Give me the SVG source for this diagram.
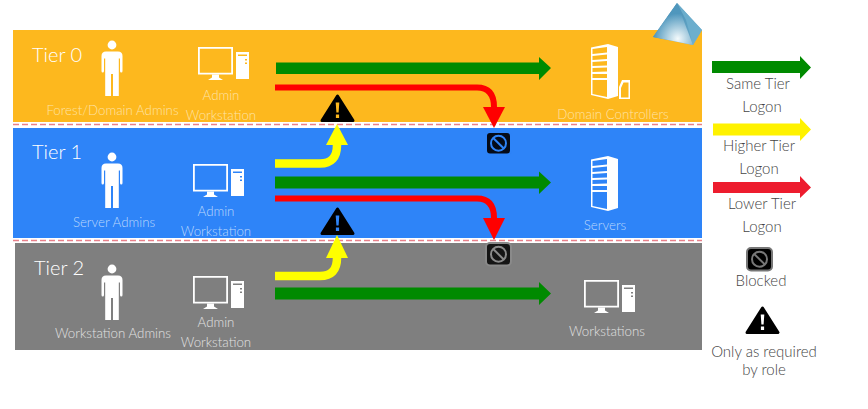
<svg xmlns="http://www.w3.org/2000/svg" width="868" height="409" viewBox="0 0 868 409">
<style>
text{font-family:"Lato","Open Sans","Liberation Sans",sans-serif;font-weight:300}
.tier{font-size:20px;fill:#fff}
.lab{font-size:13.3px;text-anchor:middle}
.l0{fill:#fee3a8}.l1{fill:#bcd8fc}.l2{fill:#e2e2e2}
.leg{font-size:15px;fill:#444;text-anchor:middle}
.sep{stroke:#e8808a;stroke-width:1.5;stroke-dasharray:6 3;fill:none}
.g{fill:#008a00}
.rs{fill:none;stroke:#f00;stroke-width:6}
.ys{fill:none;stroke:#ff0;stroke-width:8.5}
.rf{fill:#f00}.yf{fill:#ff0}
.ico{fill:#fff}
</style>
<defs>
<linearGradient id="pyr" x1="0" y1="0" x2="1" y2="1">
<stop offset="0" stop-color="#3f86ad"/><stop offset="1" stop-color="#6fb0cf"/>
</linearGradient>
<radialGradient id="pyrG" cx="0.62" cy="0.85" r="0.6">
<stop offset="0" stop-color="#f4fafc"/><stop offset="1" stop-color="#4f97bd"/>
</radialGradient>
<symbol id="person" overflow="visible">
<circle cx="0" cy="0" r="4.4"/>
<path d="M-6 6.500H6Q10.500 6.500 10.500 11V26Q10.500 27.500 9.300 27.500Q8 27.500 8 26V13.500H6.800V51H1V29H-1V51H-6.800V13.500H-8V26Q-8 27.500-9.300 27.500Q-10.500 27.500-10.500 26V11Q-10.500 6.500-6 6.500Z"/>
</symbol>
<symbol id="ws" overflow="visible">
<path fill-rule="evenodd" d="M0 0H35V27.500H0ZM1.800 1.800V25.700H33.200V1.800Z"/>
<path d="M14 27.500H21V30.500L25 33H10L14 30.500Z"/>
<path fill-rule="evenodd" d="M38 5H51V32H38ZM40 7.500V9H49V7.500ZM47 12V13.500H49V12ZM47 15.500V17H49V15.500Z"/>
</symbol>
<symbol id="srv" overflow="visible">
<path fill-rule="evenodd" d="M0 3.500L17 0L27 3V52L17 55L0 51ZM1.500 5V10L16 8.500V3ZM1.500 12V16L16 15V10.500ZM1.500 18V22L16 21.500V17ZM1.500 24V28L16 27.500V23.500ZM1.500 30V34L16 34V30ZM1.500 36V50L16 53V36Z"/>
</symbol>
<symbol id="warn" overflow="visible">
<path fill="#000" stroke="#000" stroke-width="3" stroke-linejoin="round" d="M16.500 2L32 26.500H1Z"/>
<path d="M14.700 8.500H18.300L17.600 18.500H15.400ZM14.900 20.500H18.100V24H14.900Z"/>
</symbol>
<symbol id="blk" overflow="visible">
<rect x="1" y="1" width="25" height="22.500" rx="4" stroke-width="2"/>
<circle cx="13.500" cy="12.200" r="7.500" fill="none" stroke-width="2"/>
<path d="M8.200 7L18.800 17.500" fill="none" stroke-width="2"/>
</symbol>
</defs>

<g id="tier0-band"><rect x="13" y="30" width="689" height="92" fill="#fdb81e"/></g>
<g id="tier1-band"><rect x="13" y="128" width="689" height="110" fill="#2e84f8"/></g>
<g id="tier2-band"><rect x="15" y="243" width="687" height="107" fill="#7f7f7f"/></g>
<path class="sep" d="M13 124.500H702"/>
<path class="sep" d="M13 240.500H702"/>

<g id="pyramid">
<path d="M677 3L702 30L693 45L653 37Z" fill="url(#pyr)"/>
<path d="M677 3L693 45L653 37Z" fill="url(#pyrG)"/>
<path d="M677 3L702 30L693 45L686 20Z" fill="#6fb0cf" opacity=".85"/>
</g>

<g id="tier0-label"><text class="tier" x="32" y="62">Tier 0</text></g>
<g id="tier0-admins" class="ico"><use href="#person" x="112" y="45"/>
<text class="lab l0" x="112.500" y="115">Forest/Domain Admins</text></g>
<g id="tier0-workstation" class="ico"><use href="#ws" x="198" y="47"/>
<text class="lab l0" x="221" y="100">Admin</text><text class="lab l0" x="221" y="120">Workstation</text></g>
<g id="domain-controllers" class="ico"><use href="#srv" x="591" y="44"/>
<path fill-rule="evenodd" d="M622 80H630V99H619V87ZM623.500 82.500L621 88V97.500H628.500V82.500Z"/>
<text class="lab l0" x="613" y="119">Domain Controllers</text></g>

<g id="tier1-label"><text class="tier" x="32" y="159">Tier 1</text></g>
<g id="tier1-admins" class="ico"><use href="#person" x="112" y="157"/>
<text class="lab l1" x="114" y="227">Server Admins</text></g>
<g id="tier1-workstation" class="ico"><use href="#ws" x="193" y="164"/>
<text class="lab l1" x="216" y="216">Admin</text><text class="lab l1" x="216" y="236">Workstation</text></g>
<g id="servers" class="ico"><use href="#srv" x="591" y="156"/>
<text class="lab l1" x="605" y="230">Servers</text></g>

<g id="tier2-label"><text class="tier" x="34" y="275">Tier 2</text></g>
<g id="tier2-admins" class="ico"><use href="#person" x="112" y="269"/>
<text class="lab l2" x="113" y="338">Workstation Admins</text></g>
<g id="tier2-workstation" class="ico"><use href="#ws" x="193" y="276"/>
<text class="lab l2" x="216" y="327">Admin</text><text class="lab l2" x="216" y="347">Workstation</text></g>
<g id="workstations" class="ico"><use href="#ws" x="584" y="280"/>
<text class="lab l2" x="607" y="336">Workstations</text></g>

<g id="connectors">
<path class="g" d="M276 62.500H539V57L551 68L539 80V74H276Z"/>
<path class="rs" d="M275 87.500H477Q494 87.500 494 107"/><path class="rf" d="M483 107H505L494 128Z"/>
<path class="ys" d="M275 163.500H320Q337 163.500 337 145"/><path class="yf" d="M326 145H348L337 124Z"/>
<path class="g" d="M275 176.500H539V171.500L551 182.500L539 194V188.500H275Z"/>
<path class="rs" d="M275 198.500H477Q494 198.500 494 218"/><path class="rf" d="M483 218H505L494 240Z"/>
<path class="ys" d="M275 276H320Q337 276 337 258"/><path class="yf" d="M326 258H348L337 235Z"/>
<path class="g" d="M275 287.500H539V282L551 293.500L539 305V299.500H275Z"/>
</g>

<g id="warn-0" fill="#fdb81e"><use href="#warn" x="321" y="94"/></g>
<g id="warn-1" fill="#2e84f8"><use href="#warn" x="321" y="207"/></g>
<g id="blocked-0"><use href="#blk" x="485" y="131" fill="#050b18" stroke="#2e84f8"/></g>
<g id="blocked-1"><use href="#blk" x="485" y="242" fill="#151515" stroke="#8a8a8a"/></g>

<g id="legend-same"><path d="M712 61H800V56L811 67.500L800 79V73H712Z" fill="#008a00"/>
<text class="leg" x="758" y="89">Same Tier</text><text class="leg" x="762" y="112">Logon</text></g>
<g id="legend-higher"><path d="M713 123.500H800V118L811 129.500L800 141V135.500H713Z" fill="#fff200"/>
<text class="leg" x="759" y="151">Higher Tier</text><text class="leg" x="759" y="174">Logon</text></g>
<g id="legend-lower"><path d="M713 182H800V176L811 187.500L800 198V193H713Z" fill="#ed1c2e"/>
<text class="leg" x="762" y="209">Lower Tier</text><text class="leg" x="762" y="232">Logon</text></g>
<g id="legend-blocked"><use href="#blk" x="746" y="247" fill="#000" stroke="#777"/>
<text class="leg" x="761" y="286">Blocked</text></g>
<g id="legend-warn" fill="#fff"><use href="#warn" x="746" y="306"/>
<text class="leg" x="764" y="357">Only as required</text><text class="leg" x="764" y="375">by role</text></g>
</svg>
